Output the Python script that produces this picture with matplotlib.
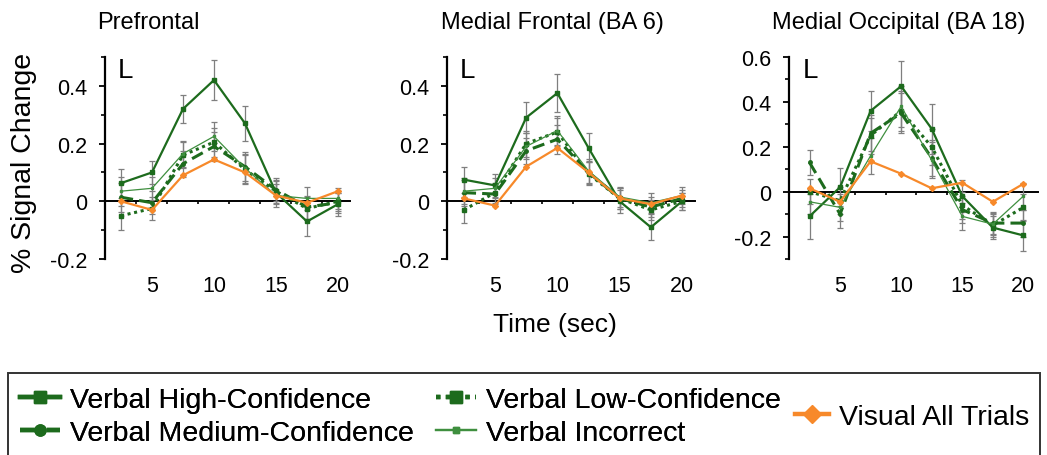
import matplotlib
matplotlib.use("Agg")
import matplotlib.pyplot as plt
from matplotlib.lines import Line2D
from matplotlib.patches import Rectangle
from matplotlib.ticker import MultipleLocator, FixedLocator

plt.rcParams['font.family'] = ['Liberation Sans', 'DejaVu Sans']

# tiempos de muestreo (s)
time = [2.5, 5, 7.5, 10, 12.5, 15, 17.5, 20]

titles = ["Prefrontal", "Medial Frontal (BA 6)", "Medial Occipital (BA 18)"]
labels = ["Verbal High-Confidence", "Verbal Medium-Confidence",
          "Verbal Low-Confidence", "Verbal Incorrect", "Visual All Trials"]

# Prefrontal
pf_high = [0.063, 0.10, 0.32, 0.42, 0.27, 0.03, -0.07, -0.01]
pf_med = [0.014, -0.005, 0.13, 0.19, 0.12, 0.04, -0.02, -0.005]
pf_low = [-0.05, -0.025, 0.16, 0.205, 0.11, 0.035, -0.025, 0.0]
pf_inc = [0.035, 0.045, 0.165, 0.225, 0.115, 0.02, 0.01, 0.01]
pf_vis = [0.0, -0.03, 0.09, 0.145, 0.10, 0.02, -0.005, 0.035]
pf_high_err = [0.05, 0.04, 0.05, 0.07, 0.06, 0.04, 0.05, 0.04]
pf_err = [0.05, 0.04, 0.045, 0.05, 0.05, 0.04, 0.04, 0.035]

# Medial Frontal (BA 6)
mf_high = [0.075, 0.055, 0.29, 0.375, 0.185, 0.0, -0.09, 0.0]
mf_med = [0.03, 0.025, 0.175, 0.215, 0.10, 0.01, -0.02, 0.01]
mf_low = [-0.03, 0.03, 0.20, 0.24, 0.095, 0.01, -0.03, 0.0]
mf_inc = [0.035, 0.045, 0.19, 0.245, 0.105, 0.015, -0.005, 0.02]
mf_vis = [0.01, -0.015, 0.12, 0.185, 0.10, 0.01, -0.01, 0.02]
mf_high_err = [0.045, 0.04, 0.055, 0.065, 0.05, 0.04, 0.045, 0.03]
mf_err = [0.045, 0.035, 0.045, 0.05, 0.04, 0.035, 0.035, 0.03]

# Medial Occipital (BA 18)
mo_high = [-0.11, 0.02, 0.36, 0.47, 0.28, -0.02, -0.16, -0.195]
mo_med = [0.13, -0.10, 0.26, 0.35, 0.15, -0.08, -0.14, -0.14]
mo_low = [0.0, -0.04, 0.25, 0.36, 0.20, -0.06, -0.15, -0.07]
mo_inc = [-0.045, -0.07, 0.16, 0.38, 0.14, -0.11, -0.145, -0.02]
mo_vis = [0.015, -0.045, 0.135, 0.08, 0.015, 0.04, -0.045, 0.035]
mo_high_err = [0.10, 0.085, 0.09, 0.11, 0.11, 0.07, 0.05, 0.07]
mo_err = [0.055, 0.06, 0.08, 0.09, 0.08, 0.06, 0.05, 0.06]

panels = [
    (pf_high, pf_med, pf_low, pf_inc, pf_vis, pf_high_err, pf_err),
    (mf_high, mf_med, mf_low, mf_inc, mf_vis, mf_high_err, mf_err),
    (mo_high, mo_med, mo_low, mo_inc, mo_vis, mo_high_err, mo_err),
]

dark = "#1d6b1d"
light = "#3f8f3f"
orange = "#f7892a"
gray = "#7f7f7f"

# estilos de cada serie: color, estilo, grosor, marcador
styles = [
    dict(color=dark, ls='-', lw=1.6, marker='s', ms=2.5),
    dict(color=dark, ls=(0, (4, 2)), lw=2.2, marker='o', ms=2.5),
    dict(color=dark, ls=(0, (1, 1.2)), lw=2.2, marker='s', ms=2.5),
    dict(color=light, ls='-', lw=0.9, marker='s', ms=2),
    dict(color=orange, ls='-', lw=1.6, marker='D', ms=3),
]

W, H = 1047, 456
fig = plt.figure(figsize=(W / 100, H / 100), dpi=100)

# posiciones en pixeles: spine izq, ancho, xlim, ylim, y de la linea cero
layout = [
    (105, 245, (1.21, 20.97), (-0.2, 0.5), 202, 97),
    (447, 248, (1.15, 21.04), (-0.2, 0.5), 202, 441),
    (789, 249, (0.82, 21.2), (-0.3, 0.6), 193, 772),
]

for i, (data, lay) in enumerate(zip(panels, layout)):
    left, width, xlim, ylim, zero_px, title_px = lay
    ax = fig.add_axes([left / W, 1 - 260 / H, width / W, 202 / H])
    series = data[:5]
    errs = [data[5], data[6], data[6], data[6], None]
    for k, (y, st) in enumerate(zip(series, styles)):
        if errs[k] is not None:
            ax.errorbar(time, y, yerr=errs[k], fmt='none', ecolor=gray,
                        elinewidth=0.9, capsize=2.2, capthick=0.9, zorder=2)
        ax.plot(time, y, color=st['color'], ls=st['ls'], lw=st['lw'],
                marker=st['marker'], ms=st['ms'], mec=st['color'],
                zorder=3 + k)
    ax.set_xlim(*xlim)
    ax.set_ylim(*ylim)
    for s in ['top', 'right']:
        ax.spines[s].set_visible(False)
    ax.spines['left'].set_linewidth(1.6)
    ax.spines['bottom'].set_position(('data', 0))
    ax.spines['bottom'].set_linewidth(1.4)
    ax.spines['bottom'].set_zorder(1)

    ax.yaxis.set_major_locator(MultipleLocator(0.2))
    ax.yaxis.set_minor_locator(MultipleLocator(0.1))
    ax.set_yticklabels([('%g' % v) for v in ax.get_yticks()])
    ax.tick_params(axis='y', which='major', length=4, width=1.3,
                   labelsize=15.5, pad=9)
    ax.tick_params(axis='y', which='minor', length=3, width=1.2)

    pad_pt = (276 - zero_px) * 0.72
    ax.xaxis.set_major_locator(FixedLocator([5, 10, 15, 20]))
    ax.xaxis.set_minor_locator(FixedLocator([3.75, 6.25, 8.75, 11.25, 13.75,
                                             16.25, 18.75]))
    ax.tick_params(axis='x', which='major', length=0, labelsize=15.5,
                   pad=pad_pt)
    ax.tick_params(axis='x', which='minor', length=2.5, width=1.2)
    ax.patch.set_alpha(0)

    ax.text((title_px - left) / width, (260 - 29) / 202, titles[i],
            transform=ax.transAxes, fontsize=17, ha='left', va='baseline')
    l_px = [118, 460, 803][i]
    ax.text((l_px - left) / width, (260 - 78) / 202, "L",
            transform=ax.transAxes, fontsize=20, ha='left', va='baseline')

fig.text(24 / W, 1 - 163 / H, "% Signal Change", rotation=90,
         fontsize=20.5, ha='center', va='center')
fig.text(555 / W, 1 - 325 / H, "Time (sec)", fontsize=19,
         ha='center', va='center')

# leyenda
fig.add_artist(Rectangle((8 / W, -0.05), (1040 - 8) / W, 0.05 + (1 - 374 / H),
                         transform=fig.transFigure, fill=False,
                         edgecolor='#333333', lw=1.4))

handles = []
for k, st in enumerate(styles):
    ms = [9, 8, 9, 5, 9][k]
    lw = [3.2, 3.2, 3.2, 1.6, 3.2][k]
    handles.append(Line2D([], [], color=st['color'], ls=st['ls'], lw=lw,
                          marker=st['marker'], ms=ms, mec=st['color']))

leg1 = fig.legend(handles[:4], labels[:4], ncol=2, loc='upper left',
                  bbox_to_anchor=(20 / W, 1 - 388 / H), frameon=False,
                  fontsize=20.5, handlelength=1.4, handletextpad=0.35,
                  columnspacing=0.8, labelspacing=0.25, borderaxespad=0,
                  borderpad=0)
fig.add_artist(leg1)
fig.legend(handles[4:], labels[4:], loc='center left',
           bbox_to_anchor=(795 / W, 1 - 418 / H), frameon=False,
           fontsize=20.5, handlelength=1.2, handletextpad=0.35,
           borderaxespad=0, borderpad=0)

fig.savefig("out.png", dpi=100)
